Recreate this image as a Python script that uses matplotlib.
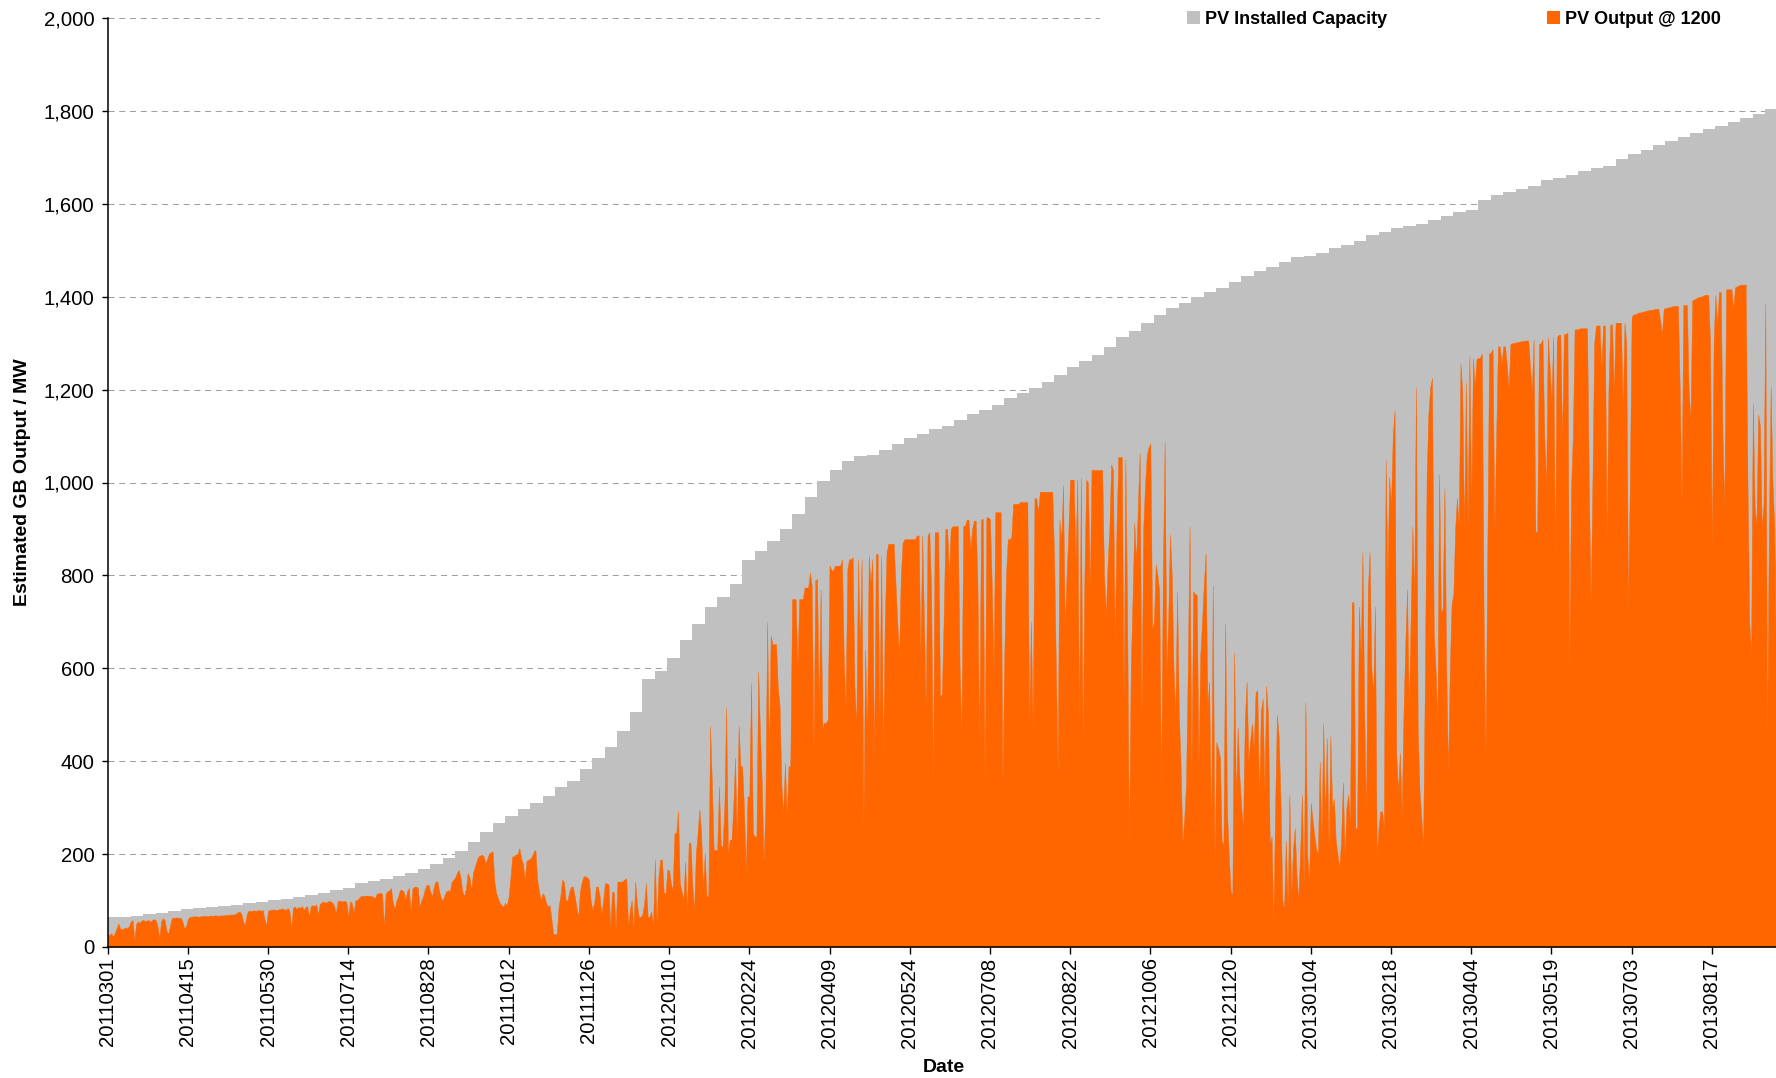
#GB SOLAR PV OUTPUT CHART

#LIBRARIES

import numpy as np
import pandas as pd
import matplotlib
matplotlib.use("Agg")
import matplotlib.pyplot as plt
from matplotlib.patches import Patch, Rectangle
from matplotlib.ticker import FuncFormatter

#DATA

start_date="2011-03-01"
first_week="2011-03-07"

#installed capacity (MW): first value for 2011-03-01, then one value per week from 2011-03-07
capacity=[64,
    64,67,70,73,78,81,83,86,88,91,
    94,97,102,104,107,111,116,123,127,137,
    142,146,152,159,168,178,191,206,225,247,
    268,283,297,310,326,344,357,383,406,430,
    466,505,576,594,623,662,696,731,754,781,
    833,853,873,900,932,968,1004,1027,1047,1056,
    1060,1070,1082,1095,1105,1115,1121,1134,1148,1157,
    1167,1181,1193,1204,1217,1232,1249,1262,1275,1291,
    1314,1327,1344,1360,1376,1386,1400,1410,1419,1432,
    1445,1455,1465,1475,1485,1488,1495,1504,1511,1520,
    1533,1540,1547,1553,1556,1566,1573,1582,1586,1608,
    1618,1625,1631,1639,1651,1655,1663,1671,1676,1681,
    1697,1707,1716,1727,1736,1743,1752,1761,1768,1776,
    1784,1793,1804]

#estimated output at 12:00 (MW), one value per day from 2011-03-01
output=[
    29,25,30,22,30,40,51,40,38,40,
    42,40,45,55,58,15,50,55,52,57,
    58,56,57,58,54,58,60,58,45,19,
    55,62,58,35,29,45,62,63,63,64,
    62,63,55,40,45,60,65,65,66,66,
    66,65,66,67,67,67,66,67,68,67,
    68,68,67,68,68,68,69,69,69,70,
    70,70,72,75,76,72,55,47,70,78,
    78,78,79,78,79,79,78,80,60,47,
    78,80,80,81,80,80,81,82,83,81,
    80,84,78,40,85,87,82,86,84,88,
    80,86,88,65,88,90,88,92,70,92,
    96,98,95,97,99,98,96,90,73,98,
    100,99,98,100,96,65,98,95,73,101,
    101,105,110,110,110,111,110,110,110,108,
    105,115,116,116,115,44,115,120,122,127,
    95,82,100,108,123,123,120,101,120,127,
    76,125,130,130,128,87,100,109,125,134,
    134,120,109,130,141,141,120,105,100,112,
    120,122,120,140,145,150,160,166,150,120,
    110,125,159,150,123,160,173,185,195,197,
    199,195,180,190,202,204,206,140,116,105,
    95,90,87,95,90,109,150,195,195,199,
    200,213,190,180,145,185,188,190,195,205,
    209,145,120,101,116,110,95,87,90,60,
    29,27,29,87,110,145,140,101,100,120,
    130,130,110,87,65,120,140,152,152,150,
    145,100,80,95,130,130,110,70,100,137,
    137,135,40,119,118,37,141,141,140,142,
    145,148,44,80,101,37,141,90,65,65,
    70,94,137,65,65,76,44,188,51,150,
    188,188,116,116,166,166,137,123,245,245,
    292,137,120,101,184,73,224,224,137,76,
    200,245,296,245,127,202,109,109,476,353,
    209,209,209,346,217,217,300,515,202,231,
    231,300,407,224,476,389,389,300,159,324,
    324,569,245,238,238,594,461,353,181,300,
    699,411,670,652,652,652,560,519,350,288,
    396,281,389,389,749,749,749,598,749,749,
    749,774,774,774,806,778,420,790,792,511,
    770,470,483,483,490,821,812,810,821,821,
    821,821,835,620,519,814,835,835,839,560,
    476,835,650,835,260,641,454,842,785,835,
    396,846,846,483,842,411,700,850,868,868,
    868,868,785,700,627,799,870,878,878,878,
    878,878,878,878,886,886,627,886,700,511,
    886,893,770,353,893,893,893,540,544,700,
    900,900,799,900,906,906,906,906,600,461,
    907,907,920,920,857,900,918,918,785,432,
    921,921,353,925,925,921,785,591,936,936,
    936,936,353,619,800,878,878,882,954,954,
    954,954,958,958,958,958,958,473,700,465,
    966,966,937,980,980,980,980,980,980,980,
    980,839,600,375,921,872,994,685,800,897,
    1006,1006,1006,831,1006,473,1011,440,800,1006,
    1000,774,1027,1027,1027,1027,1027,1027,1027,800,
    717,823,900,1039,1027,660,900,1055,1055,1055,
    522,1051,700,220,600,750,913,831,950,1064,
    489,900,994,1060,1076,1084,685,700,823,800,
    766,342,800,1088,595,700,888,800,600,497,
    766,500,391,224,277,350,600,905,359,766,
    760,758,391,628,700,782,848,522,571,238,
    778,184,441,427,409,229,220,697,292,200,
    121,112,634,319,472,364,300,256,490,571,
    400,445,481,427,548,553,319,508,535,337,
    562,499,220,238,58,300,499,454,319,103,
    81,229,85,328,103,211,256,157,103,200,
    328,130,526,200,139,310,274,240,211,202,
    400,229,481,274,450,202,454,300,319,229,
    200,171,229,355,193,300,328,265,742,742,
    256,256,733,625,850,500,283,769,850,600,
    544,733,193,256,292,292,256,1048,787,1012,
    949,1100,1155,409,337,418,284,500,650,770,
    512,700,905,750,1205,470,336,280,217,574,
    1018,1150,1205,1225,677,600,481,1018,719,729,
    987,600,377,600,739,760,900,967,905,1256,
    1194,894,1215,905,1272,946,1267,1205,1267,1267,
    1270,1277,700,408,832,1277,1280,1287,894,1100,
    1293,1293,1256,1293,1293,1250,1200,1298,1300,1300,
    1302,1302,1303,1304,1305,1305,1306,1306,1250,1194,
    1308,894,894,1298,1300,1308,1100,987,1313,1250,
    1174,1313,843,1313,1318,1318,1091,1320,1320,1323,
    595,987,1100,1329,1330,1330,1332,1332,1332,1332,
    1332,1000,738,1000,1300,1338,1338,1338,1242,1338,
    1338,882,1200,1340,1340,1194,1344,1344,1344,1344,
    1158,1344,1300,726,1000,1356,1362,1362,1364,1366,
    1366,1368,1368,1370,1370,1372,1372,1372,1374,1374,
    1374,1350,1320,1374,1376,1376,1378,1378,1380,1380,
    1380,1380,1200,954,1382,1382,1382,1200,1134,1392,
    1394,1396,1398,1400,1400,1402,1404,1404,1404,1300,
    858,1300,1404,1338,1410,1410,1100,942,1416,1416,
    1416,1416,1374,1420,1422,1424,1426,1426,1426,1426,
    1000,700,630,1170,950,906,1146,1122,900,954,
    1386,450,900,1206,1000,906,606]

series_names=["PV Installed Capacity","PV Output @ 1200"]
colors=["#C0C0C0","#FF6600"]

#DATES

days=pd.date_range(start_date,periods=len(output),freq="D")
cap_dates=pd.DatetimeIndex([pd.Timestamp(start_date)]).append(
    pd.date_range(first_week,periods=len(capacity)-1,freq="7D"))
cap_x=cap_dates.append(pd.DatetimeIndex([days[-1]]))
cap_y=capacity+[capacity[-1]]

tick_dates=pd.date_range(start_date,"2013-08-17",freq="45D")
y_ticks=np.arange(0,2001,200)

#FONTS

plt.rcParams["font.family"]=["Liberation Sans","DejaVu Sans"]

#VISUALIZATION

W,H=1776,1078
fig=plt.figure(figsize=(W/100,H/100),dpi=100)
ax=fig.add_axes([107.6/W,131/H,(W-107.6)/W,(947-18)/H])

ax.fill_between(cap_x,0,cap_y,step="post",color=colors[0],linewidth=0)
ax.fill_between(days,0,output,color=colors[1],linewidth=0.3,edgecolor=colors[1])

ax.set_xlim(days[0],days[-1])
ax.set_ylim(0,2000)
ax.set_yticks(y_ticks)
ax.yaxis.set_major_formatter(FuncFormatter(lambda v,p:f"{v:,.0f}"))
ax.set_xticks(tick_dates)
ax.set_xticklabels(tick_dates.strftime("%Y%m%d"),rotation=90)

ax.tick_params(axis="both",labelsize=14.7,direction="out",width=1,color="black")
ax.tick_params(axis="x",length=5,pad=2.5)
ax.tick_params(axis="y",length=4.5,pad=5)

ax.yaxis.grid(True,color="#a0a0a0",linewidth=0.75,linestyle=(0,(5.8,4.5)))
ax.set_axisbelow(True)

for side in ["top","right"]:
    ax.spines[side].set_visible(False)
for side in ["left","bottom"]:
    ax.spines[side].set_linewidth(1.1)
    ax.spines[side].set_color("black")

ax.set_xlabel("Date",fontsize=14,fontweight="bold")
ax.set_ylabel("Estimated GB Output / MW",fontsize=14,fontweight="bold")
ax.xaxis.set_label_coords(0.501,-0.1205)
ax.yaxis.set_label_coords(-0.046,0.5)

#LEGEND

fig.add_artist(Rectangle((1100/W,1-34/H),(W-1100)/W,34/H,transform=fig.transFigure,
                         facecolor="white",edgecolor="none",zorder=1))
handles=[Patch(facecolor=c,edgecolor="none",label=n) for c,n in zip(colors,series_names)]
fig.legend(handles=handles,loc="upper left",bbox_to_anchor=(1187/W,1-10.5/H),ncol=2,
           frameon=False,prop={"weight":"bold","size":13},handlelength=0.7,
           handleheight=0.7,handletextpad=0.3,columnspacing=8.85,borderpad=0,
           borderaxespad=0)

plt.savefig("out.png",dpi=100)
